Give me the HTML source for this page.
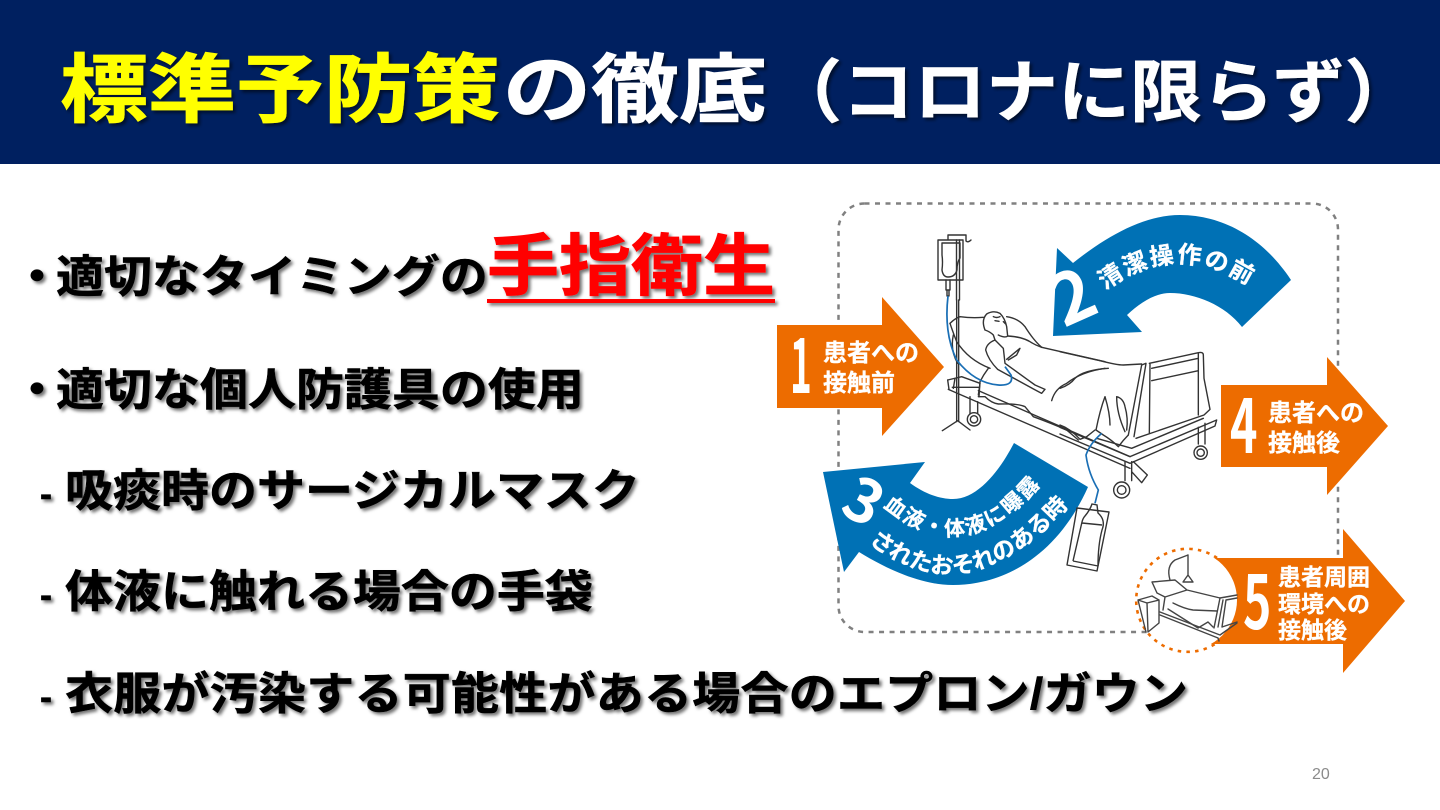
<!DOCTYPE html>
<html lang="ja">
<head>
<meta charset="utf-8">
<title>標準予防策の徹底</title>
<style>
html,body{margin:0;padding:0;background:#fff;width:1440px;height:810px;overflow:hidden}
svg{display:block;position:absolute;left:0;top:0}
text{font-family:"Liberation Sans","Noto Sans CJK JP",sans-serif;font-weight:700}
.b{font-size:48px;fill:#000;stroke:#000;stroke-width:.6}
.d{font-size:36px;fill:#000;stroke:#000;stroke-width:.6}
.l{fill:#fff;font-size:24px;stroke:#fff;stroke-width:.3}
.n{fill:#fff;font-family:"Noto Sans CJK JP",sans-serif;font-weight:700}
.ln{fill:none;stroke:#333;stroke-width:1.4;stroke-linejoin:round;stroke-linecap:round}
.z{fill:none;stroke:#333;stroke-width:4.2;stroke-linejoin:round;stroke-linecap:round}
</style>
</head>
<body>
<svg width="1440" height="810" viewBox="0 0 1440 810" xmlns="http://www.w3.org/2000/svg">
<defs>
<filter id="s" x="-5%" y="-20%" width="110%" height="150%">
<feDropShadow dx="2.5" dy="2.5" stdDeviation="1.6" flood-color="#000" flood-opacity=".55"/>
</filter>
<path id="p2" d="M1103 292 Q1175 236 1252 288"/>
<path id="p3a" d="M878 502 Q965 580 1046 478"/>
<path id="p3b" d="M858 533 Q965 630 1078 495"/>
</defs>

<rect width="1440" height="810" fill="#fff"/>
<rect width="1440" height="164" fill="#002060"/>

<g filter="url(#s)">
<text transform="translate(60,116) scale(1,.85)" font-size="88" fill="#ffff00" stroke="#ffff00" stroke-width="1">標準予防策</text>
<text transform="translate(503,116) scale(1,.85)" font-size="88" fill="#fff" stroke="#fff" stroke-width="1">の徹底</text>
<text transform="translate(770,116) scale(1,.95)" font-size="72" fill="#fff" stroke="#fff" stroke-width=".6">（コロナに限らず）</text>
</g>

<g filter="url(#s)">
<text class="b" transform="translate(13,292) scale(1,.92)">・</text>
<text class="b" transform="translate(56,292) scale(1,.92)">適切なタイミングの</text>
<text transform="translate(487,289.5) scale(1,.93)" font-size="72" fill="#ff0000" stroke="#ff0000" stroke-width=".8">手指衛生</text>
<rect x="487" y="299" width="288" height="4" fill="#ff0000"/>
<text class="b" transform="translate(13,405) scale(1,.92)">・</text>
<text class="b" transform="translate(56,405) scale(1,.92)">適切な個人防護具の使用</text>
<text class="d" x="40" y="506">-</text>
<text class="b" transform="translate(65,506) scale(1,.92)">吸痰時のサージカルマスク</text>
<text class="d" x="40" y="607">-</text>
<text class="b" transform="translate(65,607) scale(1,.92)">体液に触れる場合の手袋</text>
<text class="d" x="40" y="709">-</text>
<text class="b" transform="translate(65,709) scale(1,.92)" textLength="1123" lengthAdjust="spacing">衣服が汚染する可能性がある場合のエプロン/ガウン</text>
</g>

<text x="1312" y="779" font-size="16" fill="#8b8b8b" style="font-weight:400">20</text>

<!-- dashed frame -->
<rect x="838.5" y="203.5" width="499.5" height="428.5" rx="26" fill="none" stroke="#808080" stroke-width="2.5" stroke-dasharray="5 5.5"/>

<!-- arrow 1 -->
<polygon points="777,325 882,325 882,297 944,367 882,436 882,408 777,408" fill="#ed6c00"/>
<text class="n" font-size="74" transform="translate(790,393) scale(.5,1)">1</text>
<text class="l" x="823" y="361">患者への</text>
<text class="l" x="823" y="391">接触前</text>

<!-- arrow 4 -->
<polygon points="1221,385 1327,385 1327,357 1388,426 1327,495 1327,467 1221,467" fill="#ed6c00"/>
<text class="n" font-size="74" transform="translate(1230,453) scale(.63,1)">4</text>
<text class="l" x="1268" y="421">患者への</text>
<text class="l" x="1268" y="451">接触後</text>

<!-- arrow 5 -->
<polygon points="1190,558 1343,558 1343,529 1405,601 1343,673 1343,644 1190,644" fill="#ed6c00"/>
<circle cx="1187" cy="600" r="50" fill="#fff"/>
<path d="M1217 558 A51.5 51.5 0 1 0 1215 644" fill="none" stroke="#ed6c00" stroke-width="2.6" stroke-dasharray="3.5 5.2"/>
<text class="n" font-size="74" transform="translate(1243,629) scale(.65,1)">5</text>
<text class="l" x="1278" y="585" style="font-size:23px">患者周囲</text>
<text class="l" x="1278" y="612" style="font-size:23px">環境への</text>
<text class="l" x="1278" y="638" style="font-size:23px">接触後</text>
<!-- mini bed -->
<g class="ln" style="stroke:#444">
<path d="M1188 555 V575 M1183 582 L1188 575 L1193 582Z M1170 580 Q1166 566 1175 560 L1188 555"/>
<path d="M1152 582 L1175 580 L1187 590 L1165 597 L1157 593Z M1187 590 L1220 598 L1237 595 M1165 597 L1163 610"/>
<path d="M1173 603 Q1185 609 1193 610 L1217 611 M1220 598 L1214 628"/>
<path d="M1168 609 L1198 628 L1208 622 L1213 627"/>
<path d="M1223 600 L1218 627 M1226 600 L1222 627 M1226 600 L1237 598 M1222 627 L1237 622"/>
<path d="M1160 612 L1220 635 L1237 623 M1160 615 L1218 638 L1219 641"/>
<path d="M1138 600 L1152 596 L1159 600 L1147 603Z M1138 600 L1146 632 M1147 603 L1148 632 L1159 623 V600"/>
</g>

<!-- blue arrow 2 -->
<path d="M1057 248 L1073 263 C1108 235 1145 215 1180 215 C1225 215 1265 240 1291 280 L1242 327 C1225 305 1195 293 1170 293 C1155 293 1140 303 1127 315 L1142 332 L1053 336Z" fill="#0071b5"/>
<text fill="#fff" stroke="#fff" stroke-width=".3" font-size="24"><textPath href="#p2" startOffset="50%" text-anchor="middle" letter-spacing="2">清潔操作の前</textPath></text>
<text class="n" font-size="70" transform="translate(1064,328) rotate(-24)">2</text>

<!-- blue arrow 3 -->
<path d="M823 472 L925 462 L910 483 C925 494 940 499 953 499 C978 499 1000 470 1014 443 L1088 487 C1060 550 1010 585 953 585 C920 585 885 568 859 552 L844 572Z" fill="#0071b5"/>
<text fill="#fff" stroke="#fff" stroke-width=".3" font-size="21"><textPath href="#p3a" startOffset="50%" text-anchor="middle" letter-spacing="2">血液・体液に曝露</textPath></text>
<text fill="#fff" stroke="#fff" stroke-width=".3" font-size="23"><textPath href="#p3b" startOffset="50%" text-anchor="middle" letter-spacing="0">されたおそれのある時</textPath></text>
<text class="n" font-size="60" transform="translate(838,512) rotate(28)">3</text>

<!-- IV bag -->
<g class="ln">
<path d="M948 240 V235 H966 V241 Q968 243 971 240"/>
<path d="M938 240 H963 V280 H938Z" fill="#fff"/>
<path d="M942 243 H960 V258 Q957 262 957 270 Q955 277 948 277 Q943 277 942 270 Q943 262 942 255Z"/>
<path d="M946 280 V290 H950 V280 M947 290 V296 H949 V290"/>
<path d="M956.5 240 V300 M959.5 240 V300"/>
</g>

<!-- bed, left part: coordinates from 3x crop at (935,300) -->
<g transform="translate(935,300) scale(.33333)">
<g class="z">
<path d="M65 0 V365 M71 0 V365 M22 392 L68 362 L105 390"/>
<path d="M45 70 Q60 55 75 50 Q110 55 145 52 M215 50 Q250 55 270 80 Q295 120 320 142"/>
<path d="M45 70 Q55 100 65 125 Q100 180 165 205 M55 105 Q45 150 68 190"/>
<path d="M150 90 Q138 60 155 42 Q175 30 195 40 Q210 55 215 80 L218 108 Q210 115 190 105 M150 90 Q165 95 175 105 L180 120"/>
<path d="M175 50 Q185 55 195 50 M180 62 L192 64 M205 65 L212 72"/>
<path d="M180 120 Q155 130 152 150 Q160 180 188 208 L292 265 L320 280 L330 268 L300 255 L210 190 L205 145 L180 120"/>
<path d="M218 108 Q260 110 285 125 Q300 135 320 142"/>
<path d="M215 178 L255 145 L245 165 L220 180"/>
<path d="M160 205 Q145 225 135 245 L132 290"/>
<path d="M320 142 L510 185 M350 302 Q360 265 395 250 Q440 215 510 205"/>
<path d="M130 290 L150 290 Q170 310 190 312 Q250 310 270 320 L295 350 Q350 370 395 390 L430 420"/>
<path d="M38 240 L80 230 L135 250 L130 285 M38 240 L42 268 M60 235 L55 265 M52 262 L130 262"/>
<path d="M130 272 L585 470 M40 268 L585 505 M105 290 V342 M128 305 V345"/>
</g>
<circle cx="117" cy="358" r="20" fill="#fff" stroke="#333" stroke-width="4.2"/>
<circle cx="117" cy="358" r="11" fill="none" stroke="#333" stroke-width="4.2"/>
<path d="M39 -12 Q26 100 65 180 Q120 250 190 255 Q238 258 228 225 L210 200" fill="none" stroke="#1a6fb5" stroke-width="5.2"/>
</g>

<!-- bed, right part: coordinates from 3x crop at (1060,340) -->
<g transform="translate(1060,340) scale(.33333)">
<g class="z">
<path d="M0 35 L120 62 Q170 75 190 75 L245 72"/>
<path d="M0 145 Q30 135 45 115 Q70 90 145 85"/>
<path d="M205 285 L245 75 L258 70 L222 290 M268 70 L415 38 Q430 35 430 45 L432 115 L450 208 L432 225 L228 295 M275 85 L415 55 M275 122 L415 92 M270 72 L268 280 M415 38 V225"/>
<path d="M205 285 Q190 300 175 320 Q155 300 130 285 L108 270 Q120 210 135 170 Q150 220 150 255 M170 170 Q190 175 195 200 Q205 235 200 270 M170 170 Q170 220 195 275"/>
<path d="M0 255 Q30 265 60 298 L80 290 L105 270"/>
<path d="M0 262 L210 350 L470 240 L465 258 L210 370 L0 282 M110 295 L215 325 L430 235"/>
<path d="M415 262 V312 M435 250 V312 M195 365 V422 M215 365 V422 M220 365 L262 405 L245 428 L215 395"/>
</g>
<circle cx="422" cy="338" r="20" fill="#fff" stroke="#333" stroke-width="4.2"/>
<circle cx="422" cy="338" r="11" fill="none" stroke="#333" stroke-width="4.2"/>
<circle cx="185" cy="450" r="24" fill="#fff" stroke="#333" stroke-width="4.2"/>
<circle cx="185" cy="450" r="13" fill="none" stroke="#333" stroke-width="4.2"/>
<path d="M125 280 Q90 310 78 345 Q85 400 115 450 L105 490" fill="none" stroke="#1a6fb5" stroke-width="5"/>
</g>

<!-- drain bag -->
<path d="M1077 508 L1109 512 L1097 571 L1067 565Z" fill="#fff" stroke="#333" stroke-width="1.4" stroke-linejoin="round"/>
<path d="M1085 516 Q1090 510 1092 504 L1097 505 L1098 513 Q1106 520 1102 530 Q1098 545 1098 566 M1073 561 L1098 566 M1073 561 L1082 522 Q1083 518 1085 516 M1082 523 L1102 525" fill="none" stroke="#333" stroke-width="1.4"/>
</svg>
</body>
</html>
